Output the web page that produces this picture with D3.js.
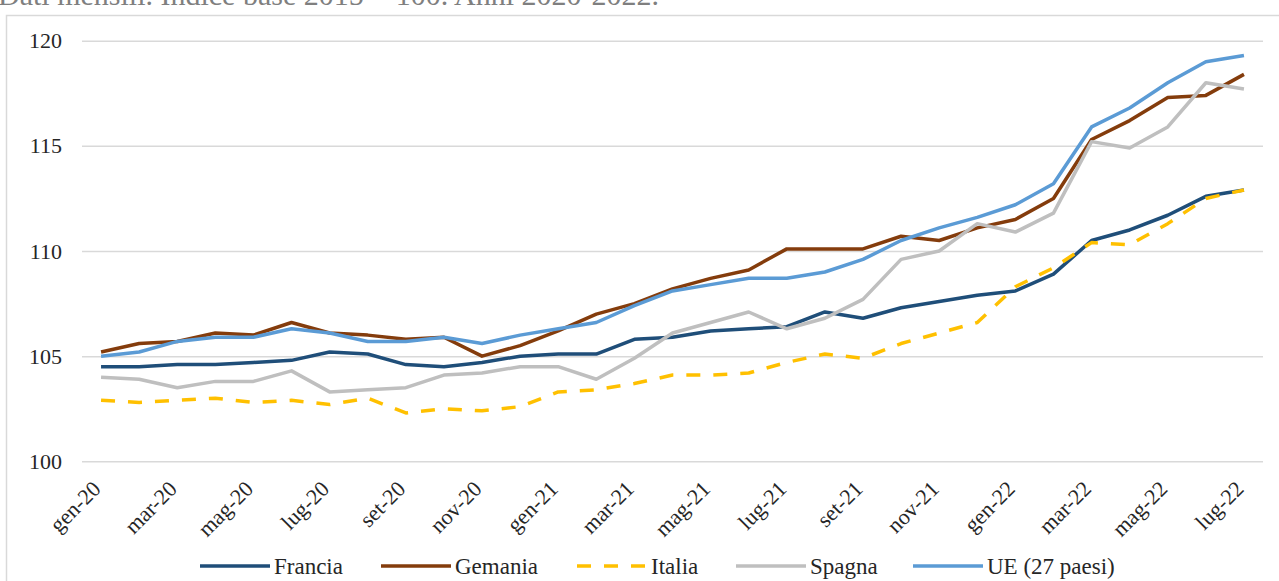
<!DOCTYPE html>
<html lang="it">
<head>
<meta charset="UTF-8">
<title>Prezzi al consumo</title>
<script src="https://d3js.org/d3.v7.min.js"></script>
<style>
  body { margin: 0; background: #fff; }
  svg { display: block; font-family: "Liberation Serif", "DejaVu Serif", serif; }
</style>
</head>
<body>
<svg width="1279" height="581"></svg>
<script>
const months = [
  "gen-20","feb-20","mar-20","apr-20","mag-20","giu-20","lug-20","ago-20","set-20","ott-20","nov-20","dic-20",
  "gen-21","feb-21","mar-21","apr-21","mag-21","giu-21","lug-21","ago-21","set-21","ott-21","nov-21","dic-21",
  "gen-22","feb-22","mar-22","apr-22","mag-22","giu-22","lug-22"
];

const francia = [104.5, 104.5, 104.6, 104.6, 104.7, 104.8, 105.2, 105.1, 104.6, 104.5, 104.7, 105.0,
  105.1, 105.1, 105.8, 105.9, 106.2, 106.3, 106.4, 107.1, 106.8, 107.3, 107.6, 107.9,
  108.1, 108.9, 110.5, 111.0, 111.7, 112.6, 112.9];
const germania = [105.2, 105.6, 105.7, 106.1, 106.0, 106.6, 106.1, 106.0, 105.8, 105.9, 105.0, 105.5,
  106.2, 107.0, 107.5, 108.2, 108.7, 109.1, 110.1, 110.1, 110.1, 110.7, 110.5, 111.1,
  111.5, 112.5, 115.3, 116.2, 117.3, 117.4, 118.4];
const italia = [102.9, 102.8, 102.9, 103.0, 102.8, 102.9, 102.7, 103.0, 102.3, 102.5, 102.4, 102.6,
  103.3, 103.4, 103.7, 104.1, 104.1, 104.2, 104.7, 105.1, 104.9, 105.6, 106.1, 106.6,
  108.3, 109.2, 110.4, 110.3, 111.3, 112.5, 112.9];
const spagna = [104.0, 103.9, 103.5, 103.8, 103.8, 104.3, 103.3, 103.4, 103.5, 104.1, 104.2, 104.5,
  104.5, 103.9, 104.9, 106.1, 106.6, 107.1, 106.3, 106.8, 107.7, 109.6, 110.0, 111.3,
  110.9, 111.8, 115.2, 114.9, 115.9, 118.0, 117.7];
const ue = [105.0, 105.2, 105.7, 105.9, 105.9, 106.3, 106.1, 105.7, 105.7, 105.9, 105.6, 106.0,
  106.3, 106.6, 107.4, 108.1, 108.4, 108.7, 108.7, 109.0, 109.6, 110.5, 111.1, 111.6,
  112.2, 113.2, 115.9, 116.8, 118.0, 119.0, 119.3];

const yTicks = [100, 105, 110, 115, 120];
const subtitle = "Dati mensili. Indice base 2015 = 100. Anni 2020-2022.";

const series = [
  { name: "Francia", values: francia, color: "#1f4e79", dash: null },
  { name: "Gemania", values: germania, color: "#843c0c", dash: null },
  { name: "Italia", values: italia, color: "#ffc000", dash: "14,13" },
  { name: "Spagna", values: spagna, color: "#bfbfbf", dash: null },
  { name: "UE (27 paesi)", values: ue, color: "#5b9bd5", dash: null }
];

const serif = "'Liberation Serif', 'DejaVu Serif', serif";
const svg = d3.select("svg");

// chart frame and the subtitle cut off at the top
svg.append("rect")
  .attr("x", 6.5).attr("y", 15.5).attr("width", 1300).attr("height", 600)
  .attr("fill", "none").attr("stroke", "#d9d9d9").attr("stroke-width", 1.5);

svg.append("text")
  .attr("x", -2).attr("y", 5)
  .attr("font-size", 30).attr("fill", "#7f7f7f")
  .text(subtitle);

const x = d3.scaleBand().domain(months).range([82, 1263]).padding(0);
const cx = m => x(m) + x.bandwidth() / 2;
const y = d3.scaleLinear().domain([100, 120]).range([461.3, 40.7]);

// gridlines + y labels
const yAxis = svg.append("g")
  .attr("transform", "translate(82,0)")
  .call(d3.axisLeft(y).tickValues(yTicks).tickSize(-1181).tickPadding(20).tickFormat(d3.format("d")))
  .attr("font-family", serif);
yAxis.select(".domain").remove();
yAxis.selectAll(".tick line").attr("stroke", "#d9d9d9").attr("stroke-width", 1.5);
yAxis.selectAll(".tick text").attr("font-size", 22).attr("fill", "#262626");

// x labels, every other month
const xAxis = svg.append("g")
  .attr("transform", "translate(0,461.3)")
  .call(d3.axisBottom(x).tickValues(months.filter((m, i) => i % 2 === 0)).tickSize(0))
  .attr("font-family", serif);
xAxis.select(".domain").remove();
xAxis.selectAll(".tick text")
  .attr("font-size", 22).attr("fill", "#262626")
  .attr("text-anchor", "end")
  .attr("x", 0).attr("y", 0).attr("dy", 0)
  .attr("transform", "translate(1,29) rotate(-45)");

// lines
const line = d3.line()
  .x((d, i) => cx(months[i]))
  .y(d => y(d));

svg.append("g").selectAll("path")
  .data(series)
  .join("path")
  .attr("d", d => line(d.values))
  .attr("fill", "none")
  .attr("stroke", d => d.color)
  .attr("stroke-width", 3.5)
  .attr("stroke-linejoin", "round")
  .attr("stroke-dasharray", d => d.dash);

// legend
const legendPos = [200, 381, 577, 736, 913];
const legend = svg.append("g").selectAll("g")
  .data(series)
  .join("g")
  .attr("transform", (d, i) => `translate(${legendPos[i]},566)`);
legend.append("line")
  .attr("x1", 0).attr("x2", 70).attr("y1", 0).attr("y2", 0)
  .attr("stroke", d => d.color).attr("stroke-width", 3.5)
  .attr("stroke-dasharray", d => d.dash);
legend.append("text")
  .attr("x", 74).attr("y", 0).attr("dy", "0.35em")
  .attr("font-size", 23).attr("fill", "#262626")
  .text(d => d.name);
</script>
</body>
</html>
